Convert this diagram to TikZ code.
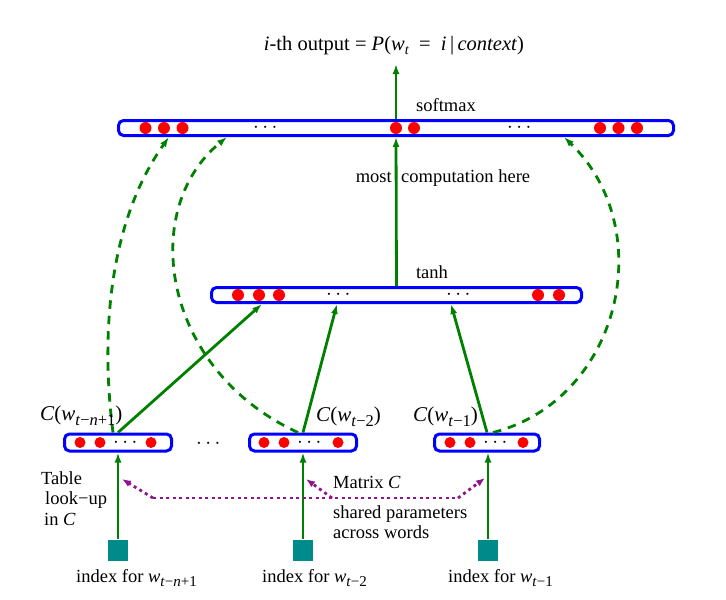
\documentclass[tikz,border=0pt]{standalone}
\usepackage{amsmath}
\usepackage{fontspec}
\setmainfont{Liberation Serif}
\usetikzlibrary{arrows.meta,calc}
\definecolor{boxblue}{RGB}{0,0,255}
\definecolor{dotred}{RGB}{255,0,0}
\definecolor{arrgreen}{RGB}{0,128,0}
\definecolor{sqteal}{RGB}{0,139,139}
\definecolor{dotpurple}{RGB}{140,20,140}
\newcommand\lo[1]{\raisebox{-4.5pt}{\fontsize{15}{15}\selectfont #1}}
\newcommand\loC[1]{\raisebox{-5pt}{\fontsize{16.5}{17}\selectfont #1}}
\begin{document}
\begin{tikzpicture}[x=1pt,y=-1pt,
  every node/.style={font=\fontsize{18.5}{20.5}\selectfont, inner sep=0pt},
  layer/.style={draw=boxblue, line width=3pt, rounded corners=5pt, minimum height=15pt, inner sep=0pt},
  embbox/.style={layer, minimum height=17pt},
  dotsym/.style={font=\fontsize{21}{21}\selectfont},
  garr/.style={draw=arrgreen, line width=2.8pt, -{Latex[length=10pt,width=7pt]}},
  gdash/.style={draw=arrgreen, line width=2.8pt, dash pattern=on 8.5pt off 7pt, -{Latex[length=10pt,width=7pt]}},
  parr/.style={draw=dotpurple, line width=2.8pt, dash pattern=on 3pt off 3.5pt, rounded corners=9pt},
  ptip/.style={-{Latex[length=9pt,width=7pt]}},
  idx/.style={fill=sqteal, minimum width=20pt, minimum height=21pt, inner sep=0pt},
  clab/.style={font=\fontsize{21}{22}\selectfont},
  ttl/.style={font=\fontsize{20.5}{22}\selectfont}]
\useasboundingbox (0,0) rectangle (726,600);

% layers
\node[layer, minimum width=555pt] (out) at (396,128) {};
\node[layer, minimum width=370pt] (hid) at (396.5,295) {};
\node[embbox, minimum width=107pt] (b1) at (118,442.5) {};
\node[embbox, minimum width=107pt] (b2) at (303,442.5) {};
\node[embbox, minimum width=105pt] (b3) at (487,442.5) {};

% units
\foreach \x in {145.5,164,182.5,396,414,600,618.5,637}
  \fill[dotred] (\x,128) circle[radius=6pt];
\foreach \x in {238,259,279,538,559}
  \fill[dotred] (\x,295) circle[radius=6pt];
\foreach \x in {80,100,151}
  \fill[dotred] (\x,442.5) circle[radius=5.5pt];
\foreach \x in {264,284,338}
  \fill[dotred] (\x,442.5) circle[radius=5.5pt];
\foreach \x in {450,470,523}
  \fill[dotred] (\x,442.5) circle[radius=5.5pt];
\node[dotsym] (d1) at (267,128) {$\cdots$};
\node[dotsym] (d2) at (521,128) {$\cdots$};
\node[dotsym] (d3) at (340,295) {$\cdots$};
\node[dotsym] (d4) at (460,295) {$\cdots$};
\node[dotsym] (d5) at (127,442.5) {$\cdots$};
\node[dotsym] (d6) at (311,442.5) {$\cdots$};
\node[dotsym] (d7) at (497,442.5) {$\cdots$};
\node[dotsym] (gap) at (210,444) {$\cdots$};

% index squares
\node[idx] (sq1) at (118,550) {};
\node[idx] (sq2) at (303,550) {};
\node[idx] (sq3) at (488,550) {};

% coordinates
\coordinate (otop) at (396,64);
\path (hid.south west) ++(52,0) coordinate (h1);
\path (hid.south west) ++(127,0) coordinate (h2);
\path (hid.south west) ++(241,0) coordinate (h3);
\path (out.south west) ++(52,0) coordinate (o1);
\path (out.south west) ++(110,0) coordinate (o2);
\path (out.south west) ++(447,0) coordinate (o3);
\path (b1.north) ++(-5,0) coordinate (s1);
\path (b2.north) ++(-5,0) coordinate (s2);
\path (b3.north) ++(6,0) coordinate (s3);

% solid arrows
\draw[garr] (sq1.north) -- (b1.south);
\draw[garr] (sq2.north) -- (b2.south);
\draw[garr] (sq3.north) -- (b3.south -| sq3.north);
\draw[garr] (b1.north) -- (h1);
\draw[garr] (b2.north) -- (h2);
\draw[garr] (b3.north) -- (h3);
\draw[garr] (hid.north) -- (out.south);
\draw[garr] (out.north) -- (otop);

% dashed skip connections
\draw[gdash] (s1) .. controls (100,330) and (110,220) .. (o1);
\draw[gdash] (s2) .. controls (162,370) and (138,210) .. (o2);
\draw[gdash] (s3) .. controls (620,400) and (660,230) .. (o3);

% shared parameters (purple)
\coordinate (pl) at (122,479);
\coordinate (pa) at (153,498);
\coordinate (pb) at (458,498);
\coordinate (pr) at (485,478);
\coordinate (pm0) at (332,498);
\coordinate (pm) at (306,479);
\draw[parr, ptip] (pa) -- (pl);
\draw[parr] (pa) -- (pb);
\draw[parr, ptip] (pb) -- (pr);
\draw[parr, ptip] (pm0) -- (pm);

% texts
\node[ttl] (title) at (394,46) {\textit{i}-th output = \textit{P}(\textit{w}\raisebox{-4pt}{\fontsize{14}{14}\selectfont\textit{t}}\ \ =\ \ \textit{i}\,|\,\textit{context})};
\node (smx) at (446,105) {softmax};
\node[anchor=base east] (most) at (392,182) {most};
\node[anchor=base west] (comp) at (401,182) {computation here};
\node (tanh) at (432,272) {tanh};
\node[clab, anchor=west] (lab1) at (40,416) {\textit{C}(\textit{w}\loC{\textit{t}−\textit{n}+1})};
\node[clab, anchor=west] (lab2) at (316,417) {\textit{C}(\textit{w}\loC{\textit{t}−2})};
\node[clab, anchor=west] (lab3) at (413,417) {\textit{C}(\textit{w}\loC{\textit{t}−1})};
\node[anchor=north west, align=left] (tbl) at (41,471) {Table\\\hspace*{4pt}look−up\\\hspace*{3pt}in \textit{C}};
\node[anchor=west] (mat) at (333,482) {Matrix \textit{C}};
\node[anchor=west, align=left] (shr) at (333,522) {shared parameters\\across words};
\node[anchor=west] (i1) at (76,578) {index for \textit{w}\lo{\textit{t}−\textit{n}+1}};
\node[anchor=west] (i2) at (262,578) {index for \textit{w}\lo{\textit{t}−2}};
\node[anchor=west] (i3) at (448,578) {index for \textit{w}\lo{\textit{t}−1}};
\end{tikzpicture}
\end{document}
